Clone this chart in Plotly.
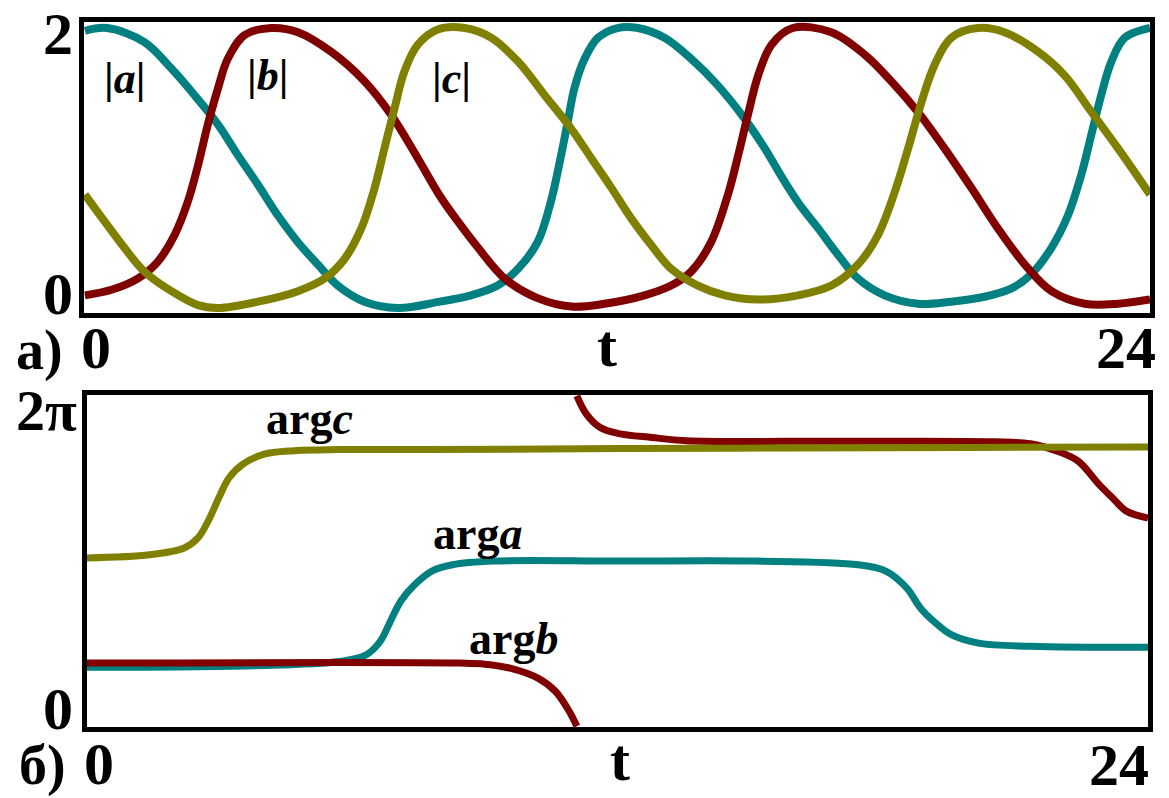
import plotly.graph_objects as go
import math

# ---- amplitudes |a|, |b|, |c| versus t ----
t_a = [0, 0.5, 1.34, 1.95, 2.47, 3.0, 3.45, 3.9, 4.35, 4.8, 5.25, 5.7, 6.3, 7.05, 8.0, 8.7,
       9.3, 9.76, 10.2, 10.5, 10.73, 10.88, 11.03, 11.26, 11.56, 12.0, 12.46, 13.06, 13.66,
       14.26, 14.87, 15.32, 15.77, 16.1, 16.52, 16.97, 17.42, 18.02, 18.77, 19.52, 20.27,
       20.88, 21.32, 21.78, 22.15, 22.45, 22.68, 22.9, 23.13, 23.43, 24.0]
amp_a = [1.98, 2.0, 1.90, 1.71, 1.52, 1.31, 1.09, 0.88, 0.66, 0.47, 0.31, 0.16, 0.045, 0.0, 0.045, 0.09,
         0.16, 0.28, 0.47, 0.76, 1.09, 1.33, 1.57, 1.78, 1.93, 2.0, 2.0, 1.93, 1.78,
         1.59, 1.35, 1.14, 0.90, 0.74, 0.57, 0.38, 0.21, 0.09, 0.03, 0.045, 0.08,
         0.14, 0.24, 0.43, 0.66, 0.95, 1.24, 1.52, 1.76, 1.93, 2.0]

t_b = [0, 0.6, 1.19, 1.64, 2.02, 2.32, 2.55, 2.77, 3.0, 3.22, 3.6, 4.2, 4.8, 5.55, 6.3, 6.9,
       7.5, 8.0, 8.4, 8.86, 9.46, 10.2, 10.96, 11.71, 12.61, 13.21, 13.66, 14.11, 14.49,
       14.72, 14.94, 15.17, 15.47, 15.95, 16.82, 17.57, 18.17, 18.77, 19.37, 19.97, 20.57,
       21.18, 21.78, 22.53, 23.28, 24.0]
amp_b = [0.09, 0.13, 0.21, 0.33, 0.52, 0.76, 1.02, 1.31, 1.57, 1.78, 1.95, 2.0, 1.97, 1.83, 1.62, 1.38,
         1.07, 0.80, 0.62, 0.43, 0.21, 0.07, 0.01, 0.03, 0.09, 0.16, 0.26, 0.47, 0.81,
         1.09, 1.38, 1.66, 1.88, 2.0, 1.97, 1.81, 1.62, 1.40, 1.14, 0.86, 0.57,
         0.31, 0.12, 0.03, 0.03, 0.06]

t_c = [0, 0.44, 0.89, 1.34, 1.95, 2.55, 3.0, 3.9, 4.8, 5.4, 5.85, 6.23, 6.53, 6.75, 6.98, 7.2,
       7.5, 7.95, 8.56, 9.16, 9.76, 10.36, 10.96, 11.41, 11.86, 12.31, 12.76, 13.21, 13.81,
       14.42, 15.17, 16.07, 16.82, 17.42, 17.87, 18.25, 18.55, 18.85, 19.15, 19.52, 20.12,
       20.72, 21.48, 22.08, 22.68, 23.28, 24.0]
amp_c = [0.81, 0.62, 0.43, 0.26, 0.12, 0.02, 0.0, 0.045, 0.12, 0.21, 0.35, 0.57, 0.86, 1.14, 1.43, 1.69,
         1.88, 1.99, 2.0, 1.93, 1.76, 1.52, 1.28, 1.07, 0.86, 0.64, 0.45, 0.28, 0.16,
         0.09, 0.06, 0.09, 0.16, 0.31, 0.52, 0.83, 1.14, 1.47, 1.74, 1.93, 2.0,
         1.97, 1.83, 1.66, 1.40, 1.14, 0.81]

# ---- phases arg a, arg b, arg c (wrapped into [0, 2pi]) ----
t_pa = [0, 3.74, 5.7, 6.32, 6.63, 6.86, 7.1, 7.41, 7.8, 8.27, 9.2, 12.0, 15.11, 17.45, 18.07,
        18.54, 18.85, 19.16, 19.55, 20.17, 21.34, 24.0]
arg_a = [1.12, 1.15, 1.23, 1.36, 1.61, 1.99, 2.38, 2.69, 2.95, 3.07, 3.14, 3.14, 3.14, 3.07, 2.95,
         2.63, 2.25, 1.99, 1.74, 1.58, 1.52, 1.50]

# arg b wraps through 0 -> 2pi near t = 11.08, so it is kept as two branches
t_pb1 = [0, 8.42, 9.0, 9.59, 10.21, 10.6, 10.91, 11.08]
arg_b1 = [1.2, 1.2, 1.18, 1.1, 0.91, 0.66, 0.28, 0.0]
t_pb2 = [11.08, 11.3, 11.61, 12.0, 12.78, 13.56, 17.0, 20.5, 21.34, 21.95, 22.42, 22.89, 23.2,
         23.51, 24.0]
arg_b2 = [2 * math.pi, 5.93, 5.68, 5.57, 5.49, 5.43, 5.42, 5.41, 5.37, 5.23, 5.04, 4.6, 4.34,
          4.09, 3.96]

t_pc = [0, 1.42, 2.2, 2.51, 2.74, 2.98, 3.21, 3.52, 3.99, 4.69, 5.7, 7.64, 12.0, 16.0, 20.0, 24.0]
arg_c = [3.2, 3.26, 3.39, 3.58, 3.9, 4.34, 4.72, 4.98, 5.17, 5.24, 5.26, 5.26, 5.28, 5.29, 5.30, 5.31]

TEAL = "#008080"
MAROON = "#800000"
OLIVE = "#808000"
SERIF = "Liberation Serif"

W, H = 1169, 798

fig = go.Figure()

def line(x, y, color, width, xa, ya):
    fig.add_trace(go.Scatter(x=x, y=y, mode="lines", xaxis=xa, yaxis=ya,
                             line=dict(color=color, width=width, shape="spline", smoothing=1.0),
                             hoverinfo="skip", showlegend=False))

# panel a) amplitudes
line(t_a, amp_a, TEAL, 8, "x", "y")
line(t_b, amp_b, MAROON, 8, "x", "y")
line(t_c, amp_c, OLIVE, 8, "x", "y")

# panel b) phases
line(t_pa, arg_a, TEAL, 7, "x2", "y2")
line(t_pb1, arg_b1, MAROON, 7, "x2", "y2")
line(t_pb2, arg_b2, MAROON, 7, "x2", "y2")
line(t_pc, arg_c, OLIVE, 7, "x2", "y2")

def px_dom(a, b, total):
    return [a / total, b / total]

frame = dict(showline=True, linecolor="black", linewidth=5, mirror=True,
             showgrid=False, zeroline=False, showticklabels=False, ticks="", fixedrange=True)

fig.update_layout(
    width=W, height=H,
    margin=dict(l=0, r=0, t=0, b=0),
    paper_bgcolor="white", plot_bgcolor="white",
    xaxis=dict(domain=px_dom(84, 1150, W), range=[-0.02, 24.0], anchor="y", **frame),
    yaxis=dict(domain=[1 - 313 / H, 1 - 22 / H], range=[-0.036, 2.043], anchor="x", **frame),
    xaxis2=dict(domain=px_dom(87, 1148, W), range=[0, 24.0], anchor="y2", **frame),
    yaxis2=dict(domain=[1 - 727 / H, 1 - 395 / H], range=[-0.015, 2 * math.pi + 0.015],
                anchor="x2", **frame),
)

ann = []

def label(text, x, y, size, xref="x", yref="y", xanchor="center"):
    ann.append(dict(text=text, x=x, y=y, xref=xref, yref=yref, showarrow=False,
                    xanchor=xanchor, yanchor="middle",
                    font=dict(family=SERIF, size=size, color="black")))

# curve names
label("<b>|<i>a</i>|</b>", 0.9, 1.64, 44)
label("<b>|<i>b</i>|</b>", 4.12, 1.66, 44)
label("<b>|<i>c</i>|</b>", 8.27, 1.64, 44)
label("<b>arg<i>c</i></b>", 5.03, 5.85, 46, "x2", "y2")
label("<b>arg<i>a</i></b>", 8.84, 3.66, 46, "x2", "y2")
label("<b>arg<i>b</i></b>", 9.65, 1.66, 46, "x2", "y2")

def paper(text, px, py, size, xanchor="center"):
    label(text, px / W, 1 - py / H, size, "paper", "paper", xanchor)

# axis numbering, panel a)
paper("<b>2</b>", 58, 34, 60)
paper("<b>0</b>", 58, 294, 60)
paper("<b>a)</b>", 39, 350, 56)
paper("<b>0</b>", 96, 348, 60)
paper("<b>t</b>", 607, 346, 60)
paper("<b>24</b>", 1158, 348, 60, "right")

# axis numbering, panel b)
paper("<b>2π</b>", 46, 410, 58)
paper("<b>0</b>", 58, 709, 60)
paper("<b>б)</b>", 42, 765, 56)
paper("<b>0</b>", 99, 764, 60)
paper("<b>t</b>", 620, 760, 60)
paper("<b>24</b>", 1151, 765, 60, "right")

fig.update_layout(annotations=ann)

fig.write_html("out.html")
